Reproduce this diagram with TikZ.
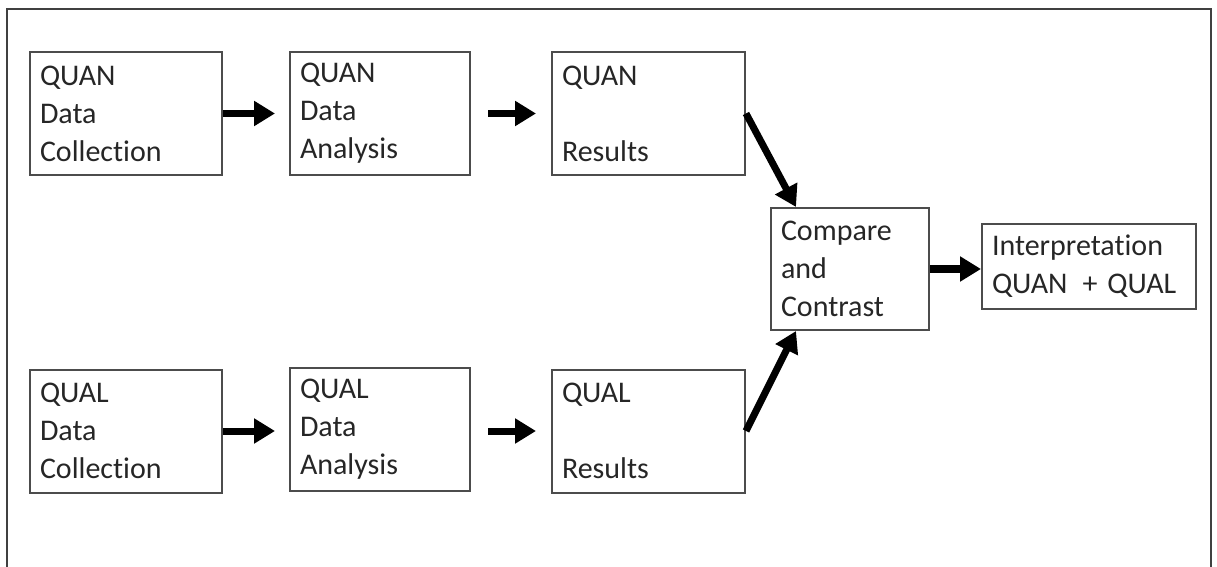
\documentclass[tikz,border=0pt]{standalone}
\usepackage{fontspec}
\setmainfont{Carlito}[Ligatures=NoCommon]
\usetikzlibrary{arrows.meta}

\tikzset{
  stage/.style={draw=black!70, line width=1pt, inner xsep=5pt, inner ysep=0pt,
    align=left, minimum height=61.5pt, text=black!85,
    font=\fontsize{15pt}{19pt}\selectfont},
  flow/.style={line width=3.5pt, -{Triangle[length=10.5pt,width=12pt]}}
}

\begin{document}
\begin{tikzpicture}[x=0.5pt, y=-0.5pt]
        \useasboundingbox (0,0) rectangle (1217,567);

        % Frame
        \draw[black!75, line width=1pt] (7,567) -- (7,9) -- (1211,9) -- (1211,567);

        % Top row
        \node[stage, text width=86pt] (quanDC) at (126,113.5) {QUAN\\Data\\Collection};
        \node[stage, text width=80pt] (quanDA) at (380,113.5) {QUAN\\Data\\Analysis};
        \node[stage, text width=86.5pt] (quanRes) at (648.5,113.5) {QUAN\\\strut\\Results};

        % Bottom row
        \node[stage, text width=86pt] (qualDC) at (126,431) {QUAL\\Data\\Collection};
        \node[stage, text width=80pt] (qualDA) at (380,429) {QUAL\\Data\\Analysis};
        \node[stage, text width=86.5pt] (qualRes) at (648.5,431) {QUAL\\\strut\\Results};

        % Merge
        \node[stage, text width=69pt, minimum height=61pt] (compare) at (850,269) {Compare\\and\\Contrast};
        \node[stage, text width=97pt, minimum height=42.5pt] (interp) at (1089,266.5) {Interpretation\\QUAN \,+ QUAL};

        % Arrows
        \draw[flow, shorten >=7pt] (quanDC.east) -- (quanDA.west);
        \draw[flow, shorten <=8.5pt, shorten >=7.5pt] (quanDA.east) -- (quanRes.west);
        \draw[flow, shorten >=7pt] (qualDC.east) -- (qualDC.east -| qualDA.west);
        \draw[flow, shorten <=8.5pt, shorten >=7.5pt] (qualDA.east |- qualDC.east) -- (qualRes.west);
        \draw[flow] (quanRes.east) -- ([xshift=13pt]compare.north west);
        \draw[flow] (qualRes.east) -- ([xshift=13pt]compare.south west);
        \draw[flow] (compare.east) -- (compare.east -| interp.west);
\end{tikzpicture}
\end{document}
